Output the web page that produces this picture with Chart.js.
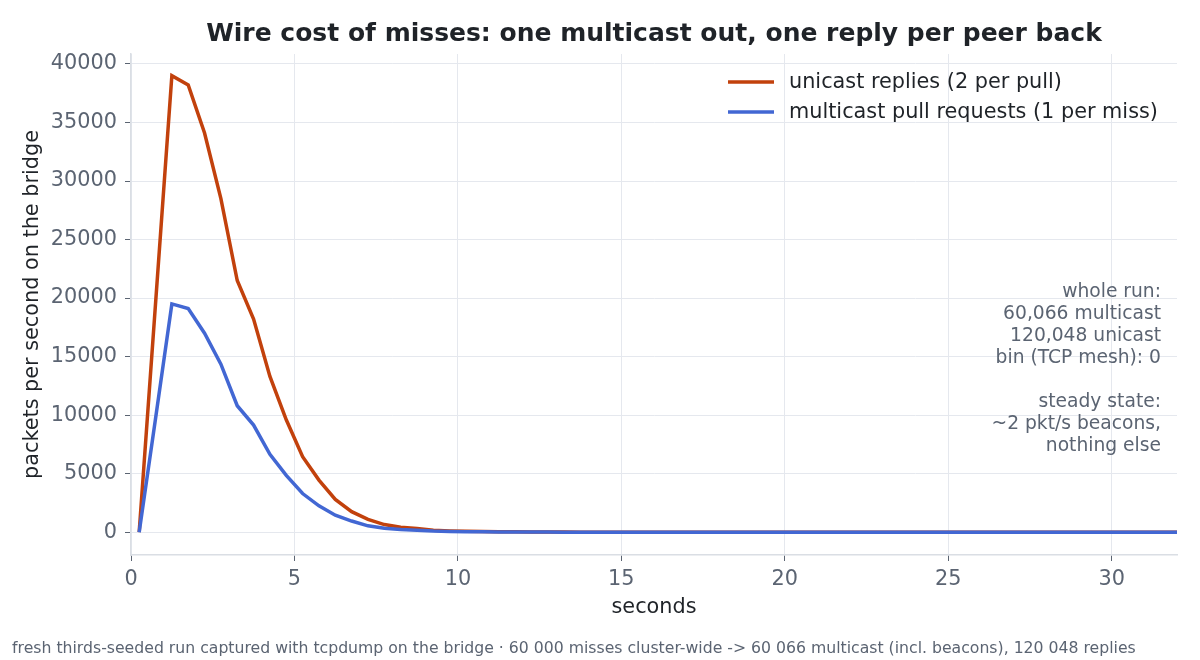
<!DOCTYPE html>
<html>
<head>
<meta charset="utf-8">
<script src="https://cdn.jsdelivr.net/npm/chart.js@4"></script>
<style>
  html, body { margin: 0; padding: 0; background: #fff; }
  #wrap { width: 1200px; height: 660px; }
</style>
</head>
<body>
<div id="wrap"><canvas id="chart" width="1200" height="660"></canvas></div>
<script>
const SECONDS = [
  0.25, 0.75, 1.25, 1.75, 2.25, 2.75, 3.25, 3.75, 4.25, 4.75,
  5.25, 5.75, 6.25, 6.75, 7.25, 7.75, 8.25, 8.75, 9.25, 9.75,
  10.25, 10.75, 11.25, 11.75, 12.25, 12.75, 13.25, 13.75, 14.25, 14.75,
  15.25, 15.75, 16.25, 16.75, 17.25, 17.75, 18.25, 18.75, 19.25, 19.75,
  20.25, 20.75, 21.25, 21.75, 22.25, 22.75, 23.25, 23.75, 24.25, 24.75,
  25.25, 25.75, 26.25, 26.75, 27.25, 27.75, 28.25, 28.75, 29.25, 29.75,
  30.25, 30.75, 31.25, 31.75, 32.25
];
const UNICAST = [
  0, 19500, 39000, 38200, 34100, 28500, 21500, 18200, 13300, 9600,
  6450, 4450, 2800, 1750, 1100, 650, 420, 320, 170, 110,
  80, 60, 30, 30, 20, 10, 6, 4, 2, 2,
  0, 0, 0, 0, 0, 0, 0, 0, 0, 0,
  0, 0, 0, 0, 0, 0, 0, 0, 0, 0,
  0, 0, 0, 0, 0, 0, 0, 0, 0, 0,
  0, 0, 0, 0, 0
];
const MULTICAST = [
  0, 9700, 19500, 19100, 17000, 14350, 10800, 9150, 6650, 4850,
  3300, 2250, 1450, 950, 540, 330, 220, 160, 90, 65,
  45, 35, 18, 16, 11, 7, 4, 2, 2, 2,
  2, 2, 2, 2, 2, 2, 2, 2, 2, 2,
  2, 2, 2, 2, 2, 2, 2, 2, 2, 2,
  2, 2, 2, 2, 2, 2, 2, 2, 2, 2,
  2, 2, 2, 2, 2
];
const SERIES_LABELS = ["unicast replies (2 per pull)", "multicast pull requests (1 per miss)"];
const X_TICKS = [0, 5, 10, 15, 20, 25, 30];
const Y_TICKS = [0, 5000, 10000, 15000, 20000, 25000, 30000, 35000, 40000];
const TITLE = "Wire cost of misses: one multicast out, one reply per peer back";
const NOTE = [
  "whole run:", "60,066 multicast", "120,048 unicast", "bin (TCP mesh): 0",
  "", "steady state:", "~2 pkt/s beacons,", "nothing else"
];
const FOOTER = "fresh thirds-seeded run captured with tcpdump on the bridge \u00b7 60 000 misses cluster-wide -> 60 066 multicast (incl. beacons), 120 048 replies";

/* ---------- Styles ---------- */
const FONT = "'DejaVu Sans', sans-serif";
const ORANGE = "#c2410c";
const BLUE = "#4267d3";
const INK = "#1f2328";
const MUTED = "#5b6472";
const GRID = "#e5e8ee";
const SPINE = "#dadee4";

function points(ys) {
  return SECONDS.map((x, i) => ({x: x, y: ys[i]}));
}

/* ---------- Extra text: title, legend, note, footer ---------- */
const decor = {
  id: "decor",
  afterDraw(chart) {
    const ctx = chart.ctx;
    const a = chart.chartArea;
    ctx.save();

    // title centred on the axes
    ctx.fillStyle = INK;
    ctx.font = "bold 25px " + FONT;
    ctx.textAlign = "center";
    ctx.textBaseline = "middle";
    ctx.fillText(TITLE, (a.left + a.right) / 2, 34);

    // legend, upper right inside plot
    ctx.font = "20.8px " + FONT;
    ctx.textAlign = "left";
    const colors = [ORANGE, BLUE];
    const tx = 789;
    SERIES_LABELS.forEach((lbl, i) => {
      const y = 82 + i * 30;
      ctx.strokeStyle = colors[i];
      ctx.lineWidth = 3.5;
      ctx.beginPath();
      ctx.moveTo(tx - 61, y);
      ctx.lineTo(tx - 15, y);
      ctx.stroke();
      ctx.fillStyle = INK;
      ctx.fillText(lbl, tx, y + 1);
    });

    // note block, right aligned
    ctx.font = "18.7px " + FONT;
    ctx.fillStyle = MUTED;
    ctx.textAlign = "right";
    NOTE.forEach((line, i) => {
      if (line) ctx.fillText(line, a.right - 16, 292 + i * 22);
    });

    // footer
    ctx.font = "15.7px " + FONT;
    ctx.textAlign = "left";
    ctx.fillText(FOOTER, 12, 649);
    ctx.restore();
  }
};

new Chart(document.getElementById("chart"), {
  type: "line",
  data: {
    datasets: [
      {label: SERIES_LABELS[0], data: points(UNICAST), borderColor: ORANGE, backgroundColor: ORANGE,
       borderWidth: 3.5, pointRadius: 0, tension: 0, order: 1},
      {label: SERIES_LABELS[1], data: points(MULTICAST), borderColor: BLUE, backgroundColor: BLUE,
       borderWidth: 3.5, pointRadius: 0, tension: 0, order: 0}
    ]
  },
  options: {
    responsive: false,
    animation: false,
    devicePixelRatio: 1,
    layout: { padding: {left: 0, right: 23, top: 54, bottom: 0} },
    plugins: {
      legend: { display: false },
      tooltip: { enabled: false }
    },
    scales: {
      x: {
        type: "linear",
        min: 0,
        max: 32,
        afterFit(s) { s.height = 105; },
        afterBuildTicks(s) { s.ticks = X_TICKS.map(v => ({value: v})); },
        ticks: { color: MUTED, font: {family: FONT, size: 20.8}, padding: 6, maxRotation: 0,
                 callback: v => String(v) },
        grid: { color: GRID, tickColor: MUTED, tickLength: 6 },
        border: { color: SPINE, width: 1.5 },
        title: { display: true, text: "seconds", color: INK, font: {family: FONT, size: 20.8},
                 padding: {top: 0, bottom: 40} }
      },
      y: {
        type: "linear",
        min: -1950,
        max: 40850,
        afterFit(s) { s.width = 131; },
        afterBuildTicks(s) { s.ticks = Y_TICKS.map(v => ({value: v})); },
        ticks: { color: MUTED, font: {family: FONT, size: 20.8}, padding: 8,
                 callback: v => String(v) },
        grid: { color: GRID, tickColor: MUTED, tickLength: 6 },
        border: { color: SPINE, width: 1.5 },
        title: { display: true, text: "packets per second on the bridge", color: INK,
                 font: {family: FONT, size: 20.8}, padding: {top: 20, bottom: 0} }
      }
    }
  },
  plugins: [decor]
});
</script>
</body>
</html>
